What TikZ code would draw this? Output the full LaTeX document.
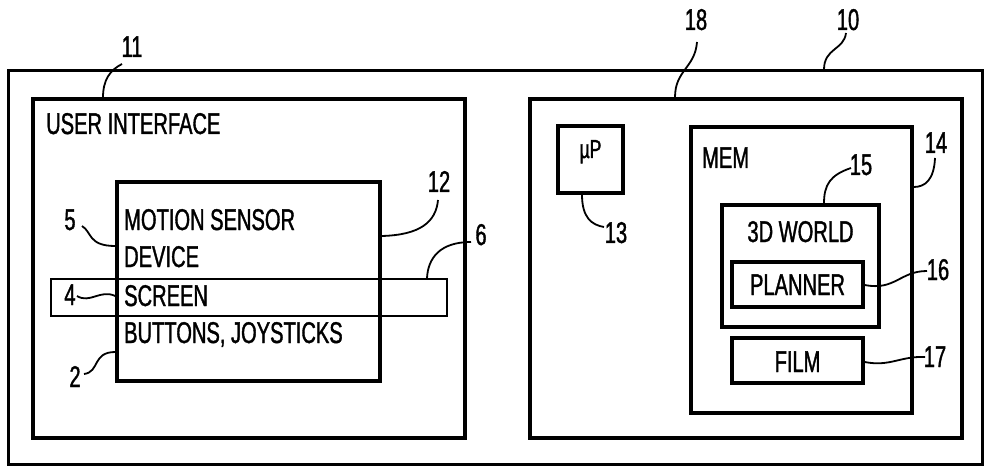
\documentclass[tikz,border=0pt]{standalone}
\usepackage{fontspec}
\setmainfont{Liberation Sans}[FakeStretch=0.67,FakeBold=1.2]
\begin{document}
\begin{tikzpicture}[x=1pt,y=-1pt,
  box/.style={draw, line width=3.4pt, inner sep=0pt},
  thinbox/.style={draw, line width=1.8pt, inner sep=0pt},
  txt/.style={inner sep=0pt, font=\fontsize{30}{33}\selectfont},
  small/.style={inner sep=0pt, font=\fontsize{26}{28}\selectfont},
  lbl/.style={inner sep=0pt, anchor=base, font=\fontsize{30}{33}\selectfont},
  lead/.style={line width=1.8pt}]
\useasboundingbox (0,0) rectangle (984,470);
% boxes
\node[box, line width=3pt, minimum width=974pt, minimum height=393pt] (b10) at (495,267.5) {};
\node[box, minimum width=432pt, minimum height=339pt] (b11) at (249,268.5) {};
\node[thinbox, minimum width=396pt, minimum height=37pt] (scr) at (249,297.5) {};
\node[box, minimum width=263pt, minimum height=199pt] (b12) at (248.5,281.5) {};
\node[box, minimum width=432pt, minimum height=339pt] (b18) at (746,268.5) {};
\node[box, minimum width=65pt, minimum height=67pt] (mp) at (590.5,159.5) {};
\node[box, minimum width=221pt, minimum height=286pt] (b14) at (801.5,270) {};
\node[box, minimum width=157pt, minimum height=122pt] (w3d) at (800.5,266) {};
\node[box, minimum width=131pt, minimum height=45pt] (pl) at (797.5,284.5) {};
\node[box, minimum width=131pt, minimum height=45pt] (film) at (797.5,360.5) {};
% texts
\node[txt, anchor=base west] (tui) at (46,134) {USER INTERFACE};
\node[txt, anchor=base west] (tms) at (124,230) {MOTION SENSOR};
\node[txt, anchor=base west] (tdev) at (124,267) {DEVICE};
\node[txt, anchor=base west] (tscr) at (124,306) {SCREEN};
\node[txt, anchor=base west] (tbut) at (124,343) {BUTTONS, JOYSTICKS};
\node[small, anchor=base] (tmp) at (590.5,158) {µP};
\node[txt, anchor=base west] (tmem) at (702,168) {MEM};
\node[txt, anchor=base] (tw3d) at (800.5,242) {3D WORLD};
\node[txt, anchor=base] (tpl) at (797.5,295) {PLANNER};
\node[txt, anchor=base] (tfilm) at (797.5,372) {FILM};
% reference numerals
\node[lbl] (l11) at (132,57) {11};
\node[lbl] (l12) at (439,192) {12};
\node[lbl] (l5) at (70,230) {5};
\node[lbl] (l6) at (481,245) {6};
\node[lbl] (l4) at (70,305) {4};
\node[lbl] (l2) at (75,387) {2};
\node[lbl] (l18) at (696,30) {18};
\node[lbl] (l10) at (848,30) {10};
\node[lbl] (l13) at (616,243) {13};
\node[lbl] (l14) at (936,153) {14};
\node[lbl] (l15) at (861,175) {15};
\node[lbl] (l16) at (938,280) {16};
\node[lbl] (l17) at (935,367) {17};
% leaders
\draw[lead] ([shift={(-10,7)}]l11.base) .. controls (110,70) and (103,80) .. (103,0 |- b11.north);
\draw[lead] ([shift={(-1,8)}]l12.base) .. controls (436,222) and (420,235) .. (b12.east |- 0,236);
\draw[lead] ([shift={(12,-4)}]l5.base) .. controls (92,232) and (88,246) .. (b12.west |- 0,246);
\draw[lead] ([shift={(-10,-3)}]l6.base) .. controls (440,242) and (428,258) .. (427,0 |- scr.north);
\draw[lead] ([shift={(7,-9)}]l4.base) .. controls (90,304) and (100,289) .. (b12.west |- 0,296);
\draw[lead] ([shift={(9,-13)}]l2.base) .. controls (100,372) and (92,352) .. (b12.west |- 0,352);
\draw[lead] ([shift={(1,12)}]l18.base) .. controls (695,68) and (675,70) .. (675,0 |- b18.north);
\draw[lead] ([shift={(-2,3)}]l10.base) .. controls (844,50) and (824,48) .. (824,0 |- b10.north);
\draw[lead] (582,0 |- mp.south) .. controls (582,218) and (592,225) .. ([shift={(-12,-16)}]l13.base);
\draw[lead] ([shift={(-1,5)}]l14.base) .. controls (934,180) and (925,187) .. (b14.east |- 0,187);
\draw[lead] ([shift={(-10,-7)}]l15.base) .. controls (830,175) and (824,185) .. (824,0 |- w3d.north);
\draw[lead] ([shift={(-11,-9)}]l16.base) .. controls (900,271) and (895,291) .. (pl.east |- 0,285);
\draw[lead] ([shift={(-10,-10)}]l17.base) .. controls (900,356) and (890,367) .. (film.east |- 0,362);
\end{tikzpicture}
\end{document}
